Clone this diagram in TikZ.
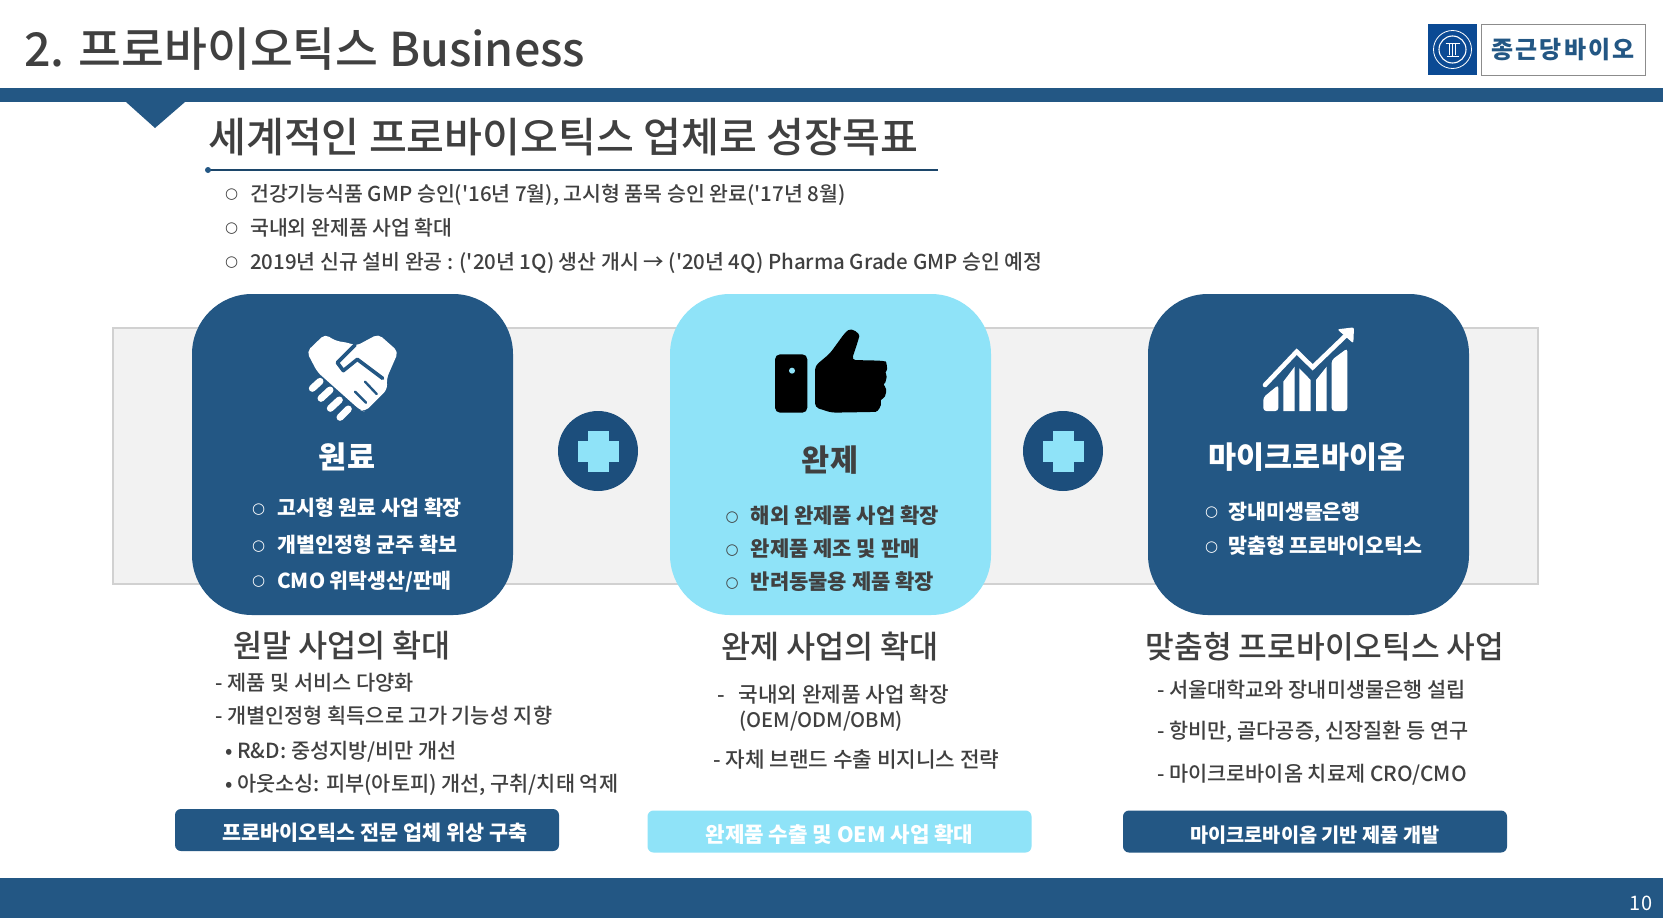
\documentclass[tikz,border=0pt]{standalone}
\usepackage{fontspec}
\setmainfont{Noto Sans CJK KR}
\newfontfamily\medfont{Noto Sans CJK KR Medium}
\newfontfamily\ringfont{DejaVu Sans Bold}
\usetikzlibrary{calc}

\definecolor{cardblue}{HTML}{235784}
\definecolor{cardlight}{HTML}{8FE3F8}
\definecolor{plusblue}{HTML}{1C4E7C}
\definecolor{inkgrey}{HTML}{404040}
\definecolor{logoblue}{HTML}{0B4A94}
\newcommand{\pxfont}[1]{\fontsize{#1pt}{#1pt}\selectfont}
\newcommand{\ringglyph}{\raisebox{2.6pt}{\ringfont\pxfont{15}○}}
\newcommand{\ringmark}{\makebox[24pt][l]{\hspace*{-1pt}\ringglyph}}
\newcommand{\cardmark}{\makebox[24pt][l]{\hspace*{-1pt}\ringglyph}}
\newcommand{\tightmark}{\makebox[22pt][l]{\hspace*{-1pt}\ringglyph}}

\tikzset{
  label base/.style={anchor=west,inner sep=0pt,yshift=-2pt,execute at begin node=\vphantom{가(}},
  goal item/.style={label base,text=inkgrey,font=\medfont\pxfont{20.5}},
  card/.style={minimum width=321pt,minimum height=321pt,rounded corners=60pt,inner sep=0pt},
  card title/.style={anchor=center,inner sep=0pt,font=\bfseries\pxfont{30.5}},
  card item/.style={label base,font=\bfseries\pxfont{20.6}},
  finished item/.style={card item,text=inkgrey,font=\bfseries\pxfont{21}},
  sub head/.style={anchor=center,inner sep=0pt,text=inkgrey,font=\medfont\pxfont{31.6}},
  sub item/.style={label base,text=inkgrey,font=\medfont\pxfont{20.8}},
  banner/.style={minimum width=384pt,minimum height=42pt,rounded corners=6pt,inner sep=0pt,text=white,text height=21pt,text depth=0pt},
  plus disc/.style={circle,minimum size=80pt,inner sep=0pt,fill=plusblue},
  plus arm/.style={fill=cardlight,inner sep=0pt}
}

\begin{document}
\begin{tikzpicture}[x=1pt,y=-1pt]
  \useasboundingbox (0,0) rectangle (1663,918);
  \fill[white] (0,0) rectangle (1663,918);

  \fill[cardblue] (0,88) rectangle (1663,102);
  \fill[cardblue] (126,102) -- (185,102) -- (155,128) -- cycle;
  \fill[cardblue] (0,878) rectangle (1663,918);
  \node[anchor=center,inner sep=0pt,text=white,font=\pxfont{20}] (pagenum) at (1641,903) {10};

  \node[label base,text=inkgrey,font=\medfont\pxfont{46.6}] (pagetitle) at (24,50) {2. 프로바이오틱스 Business};

  \node[minimum width=49pt,minimum height=51pt,inner sep=0pt,fill=logoblue] (logomark) at (1452.5,49.5) {};
  \node[circle,minimum size=38pt,inner sep=0pt,draw=white,line width=.8pt] (logoring) at (logomark.center) {};
  \node[circle,minimum size=27pt,inner sep=0pt,draw=white,line width=1.1pt] (logodisc) at (logomark.center) {};
  \draw[white,line width=1.1pt] ($(logomark.center)+(-7,-6)$) -- ($(logomark.center)+(7,-6)$);
  \draw[white,line width=1.1pt] ($(logomark.center)+(0,-6)$) -- ($(logomark.center)+(0,7)$);
  \draw[white,line width=.8pt] ($(logomark.center)+(-3,-6)$) -- ($(logomark.center)+(-3,5)$);
  \draw[white,line width=.8pt] ($(logomark.center)+(3,-6)$) -- ($(logomark.center)+(3,5)$);
  \draw[white,line width=1.1pt] ($(logomark.center)+(-6,7)$) -- ($(logomark.center)+(6,7)$);
  \node[minimum width=164pt,minimum height=51pt,inner sep=0pt,fill=white,draw=black!45,line width=.8pt] (logobox) at (1563,49.5) {};
  \node[inner sep=0pt,text=cardblue,font=\bfseries\pxfont{24}] (logotext) at (logobox.center) {종\hspace{2pt}근\hspace{2pt}당\hspace{2pt}바\hspace{2pt}이\hspace{2pt}오};

  \node[label base,text=inkgrey,font=\medfont\pxfont{41.2}] (goalhead) at (208,137) {세계적인 프로바이오틱스 업체로 성장목표};
  \draw[cardblue!80!black,line width=1.6pt] (208,170) -- (938,170);
  \fill[cardblue] (208,170) circle (3pt);
  \node[goal item] (goalone) at (226,193) {\ringmark 건강기능식품 GMP 승인('16년 7월), 고시형 품목 승인 완료('17년 8월)};
  \node[goal item] (goaltwo) at (226,227) {\ringmark 국내외 완제품 사업 확대};
  \node[goal item] (goalthree) at (226,261) {\ringmark 2019년 신규 설비 완공 : ('20년 1Q) 생산 개시 → ('20년 4Q) Pharma Grade GMP 승인 예정};

  \node[minimum width=1425pt,minimum height=256pt,inner sep=0pt,fill=black!5,draw=black!18,line width=2pt] (backband) at (825.5,456) {};

  \node[card,fill=cardblue] (rawcard) at (352.5,454.5) {};
  \node[card,fill=cardlight] (finishedcard) at (830.5,454.5) {};
  \node[card,fill=cardblue] (microcard) at (1308.5,454.5) {};

  \node[plus disc] (plusleft) at (598,451) {};
  \node[plus arm,minimum width=41pt,minimum height=21pt] (plusleftwide) at (plusleft.center) {};
  \node[plus arm,minimum width=21pt,minimum height=41pt] (plusleftlong) at (plusleft.center) {};
  \node[plus disc] (plusright) at (1063,451) {};
  \node[plus arm,minimum width=41pt,minimum height=21pt] (plusrightwide) at (plusright.center) {};
  \node[plus arm,minimum width=21pt,minimum height=41pt] (plusrightlong) at (plusright.center) {};

  \begin{scope}[shift={(280,310)},scale=1/3]
    \fill[white,rounded corners=5pt] (80,125) -- (135,72) -- (165,92) -- (212,100) -- (228,108) -- (295,72) -- (355,125) -- (320,205) -- (322,238) -- (255,305) -- (240,300) -- (112,186) -- cycle;
    \draw[cardblue,line width=3.6pt,line join=round,line cap=round] (225,105) -- (172,158) -- (190,182) -- (232,148) -- (308,205);
    \draw[cardblue,line width=2.4pt,line cap=round] (255,215) -- (290,252);
    \draw[cardblue,line width=2.4pt,line cap=round] (225,245) -- (258,278);
    \draw[white,line width=7pt,line cap=round] (97,235) -- (120,214);
    \draw[white,line width=7pt,line cap=round] (123,265) -- (150,240);
    \draw[white,line width=7pt,line cap=round] (151,295) -- (178,270);
    \draw[white,line width=7pt,line cap=round] (180,322) -- (205,297);
  \end{scope}

  \begin{scope}[shift={(750,310)},scale=1/3]
    \fill[black,rounded corners=5pt] (75,133) -- (172,133) -- (172,308) -- (75,308) -- cycle;
    \fill[cardlight] (126,182) circle (9);
    \fill[black,rounded corners=4pt] (195,168) -- (240,130) -- (285,68) .. controls (305,52) and (330,70) .. (325,90) -- (305,150) -- (395,152) .. controls (410,155) and (412,178) .. (402,187) .. controls (412,200) and (405,218) .. (395,222) .. controls (412,235) and (408,262) .. (388,268) .. controls (395,285) and (385,305) .. (365,306) -- (245,308) -- (195,292) -- cycle;
  \end{scope}

  \begin{scope}[shift={(1240,310)},scale=1/3]
    \fill[white,rounded corners=3pt] (70,262) -- (115,225) -- (115,303) -- (70,303) -- cycle;
    \fill[white] (130,215) -- (164,170) -- (164,303) -- (130,303) -- cycle;
    \fill[white] (178,175) -- (212,210) -- (212,303) -- (178,303) -- cycle;
    \fill[white] (228,210) -- (260,170) -- (260,303) -- (228,303) -- cycle;
    \fill[white,rounded corners=3pt] (275,150) -- (322,115) -- (322,303) -- (275,303) -- cycle;
    \draw[white,line width=4.6pt,line cap=round,line join=miter] (75,225) -- (170,125) -- (218,172) -- (322,72);
    \fill[white,rounded corners=2pt] (292,58) -- (342,52) -- (340,100) -- cycle;
  \end{scope}

  \node[card title,text=white] (rawtitle) at (347,457) {원료};
  \node[card title,text=inkgrey] (finishedtitle) at (830,460) {완제};
  \node[card title,text=white] (microtitle) at (1307,457) {마이크로바이옴};

  \node[card item,text=white] (rawone) at (253,507) {\cardmark 고시형 원료 사업 확장};
  \node[card item,text=white] (rawtwo) at (253,544) {\cardmark 개별인정형 균주 확보};
  \node[card item,text=white] (rawthree) at (253,580) {\cardmark CMO 위탁생산/판매};

  \node[finished item] (finishedone) at (726.5,515) {\cardmark 해외 완제품 사업 확장};
  \node[finished item] (finishedtwo) at (726.5,548) {\cardmark 완제품 제조 및 판매};
  \node[finished item] (finishedthree) at (726.5,581) {\cardmark 반려동물용 제품 확장};

  \node[card item,text=white] (microone) at (1206,511) {\tightmark 장내미생물은행};
  \node[card item,text=white] (microtwo) at (1206,545) {\tightmark 맞춤형 프로바이오틱스};

  \node[sub head] (rawhead) at (342,646) {원말 사업의 확대};
  \node[sub head] (finishedhead) at (830,647) {완제 사업의 확대};
  \node[sub head,font=\medfont\pxfont{31.2}] (microhead) at (1325,647) {맞춤형 프로바이오틱스 사업};

  \node[sub item] (rawitemone) at (215,682) {- 제품 및 서비스 다양화};
  \node[sub item] (rawitemtwo) at (215,715) {- 개별인정형 획득으로 고가 기능성 지향};
  \node[sub item] (rawitemthree) at (225,750) {• R\&D: 중성지방/비만 개선};
  \node[sub item] (rawitemfour) at (225,783) {• 아웃소싱: 피부(아토피) 개선, 구취/치태 억제};

  \node[sub item,font=\medfont\pxfont{21.3}] (finisheditemone) at (717,694) {-\hspace{14pt}국내외 완제품 사업 확장};
  \node[sub item,font=\medfont\pxfont{20}] (finisheditemtwo) at (739,719) {(OEM/ODM/OBM)};
  \node[sub item,font=\medfont\pxfont{21.3}] (finisheditemthree) at (713,759) {- 자체 브랜드 수출 비지니스 전략};

  \node[sub item] (microitemone) at (1157,689) {- 서울대학교와 장내미생물은행 설립};
  \node[sub item] (microitemtwo) at (1157,730) {- 항비만, 골다공증, 신장질환 등 연구};
  \node[sub item] (microitemthree) at (1157,773) {- 마이크로바이옴 치료제 CRO/CMO};

  \node[banner,fill=cardblue,font=\bfseries\pxfont{20.7}] (rawbanner) at (367,830) {\hspace*{16pt}프로바이오틱스 전문 업체 위상 구축};
  \node[banner,fill=cardlight,font=\bfseries\pxfont{21.2}] (finishedbanner) at (839.5,831.5) {완제품 수출 및 OEM 사업 확대};
  \node[banner,fill=cardblue,font=\bfseries\pxfont{19.7}] (microbanner) at (1315,831.5) {마이크로바이옴 기반 제품 개발};
\end{tikzpicture}
\end{document}
